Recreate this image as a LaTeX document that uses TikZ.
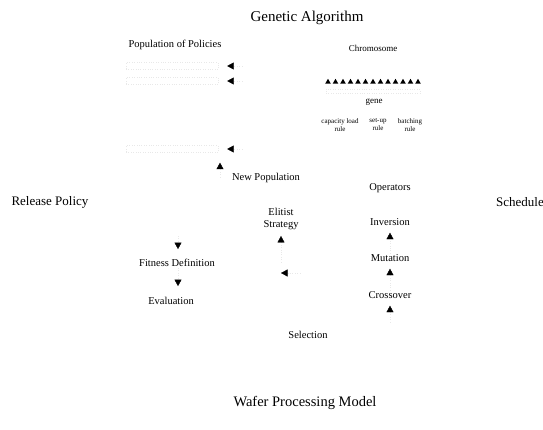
\documentclass[tikz,border=0pt]{standalone}
\usepackage{fontspec}
\setmainfont{Liberation Serif}
\usetikzlibrary{arrows.meta,shapes.geometric}
\begin{document}
\begin{tikzpicture}[x=1pt,y=-1pt,
  lbl/.style={font=\fontsize{10.5}{12}\selectfont, inner sep=1pt},
  big/.style={font=\fontsize{15}{18}\selectfont, inner sep=0pt},
  side/.style={font=\fontsize{13}{15}\selectfont, inner sep=0pt},
  small/.style={font=\fontsize{9}{10}\selectfont, inner sep=0pt},
  tiny/.style={font=\fontsize{7}{8}\selectfont, align=center, inner sep=0pt},
  member/.style={draw=black!9, dotted, minimum width=92pt, minimum height=7pt, inner sep=0pt},
  link/.style={draw=black!9, dotted, line width=0.4pt, -{Triangle[black, length=6.5pt, width=7pt]}},
  gene/.style={fill=black, regular polygon, regular polygon sides=3, minimum size=6.4pt, inner sep=0pt}
]
\useasboundingbox (0,0) rectangle (543,430);

% titles of the two blocks and the external inputs / outputs
\node[big] (ga) at (307,18) {Genetic Algorithm};
\node[big, font=\fontsize{14.5}{17}\selectfont] (wafer) at (305,403) {Wafer Processing Model};
\node[side] (rel) at (50,202) {Release Policy};
\node[side] (sched) at (520,202) {Schedule};

% population of policies
\node[lbl] (pop) at (175,45) {Population of Policies};
\node[member] (p1) at (172,66) {};
\node[member] (p2) at (172,81) {};
\node[member] (p3) at (172,149) {};

% chromosome with its genes
\node[small] (chrom) at (373,48) {Chromosome};
\foreach \i in {0,...,12} \node[gene] (g\i) at ({328+7.5*\i},82) {};
\node[draw=black!9, dotted, minimum width=94pt, minimum height=4pt, inner sep=0pt] (strip) at (373,91) {};
\node[small] (gene) at (374,102) {gene};
\node[tiny] (r1) at (340,125) {capacity load\\rule};
\node[tiny] (r2) at (378,125) {set-up\\rule};
\node[tiny] (r3) at (410,125) {batching\\rule};

% loop labels
\node[lbl] (newpop) at (266,178) {New Population};
\node[lbl] (ops) at (390,188) {Operators};
\node[lbl, align=center] (elit) at (281,219) {Elitist\\Strategy};
\node[lbl] (inv) at (390,222) {Inversion};
\node[lbl] (mut) at (390,258) {Mutation};
\node[lbl] (cross) at (390,295) {Crossover};
\node[lbl] (fit) at (177,263) {Fitness Definition};
\node[lbl] (eval) at (171,301) {Evaluation};
\node[lbl] (sel) at (308,335) {Selection};

% free ends of connectors
\coordinate (p1in) at (242,66);
\coordinate (p2in) at (242,81);
\coordinate (p3in) at (242,149);
\coordinate (u1) at (220,177);
\coordinate (e1) at (281,262);
\coordinate (s1) at (300,273);
\coordinate (s2) at (281,273);
\coordinate (c0) at (390,322);
\coordinate (f0) at (178,236);

% connectors
\draw[link, shorten >=9pt] (p1in) -- (p1.east);
\draw[link, shorten >=9pt] (p2in) -- (p2.east);
\draw[link, shorten >=9pt] (p3in) -- (p3.east);
\draw[link, shorten >=10pt] (u1) -- (u1 |- p3.south);
\draw[link, shorten >=5pt] (e1) -- (elit.south);
\draw[link] (s1) -- (s2);
\draw[link, shorten >=6pt] (c0) -- (cross.south);
\draw[link, shorten >=6pt] (cross.north) -- (mut.south);
\draw[link, shorten >=6pt] (mut.north) -- (inv.south);
\draw[link, shorten >=9pt] (f0) -- (f0 |- fit.north);
\draw[link, shorten >=10pt] (fit.south -| f0) -- (eval.north -| f0);
\end{tikzpicture}
\end{document}
